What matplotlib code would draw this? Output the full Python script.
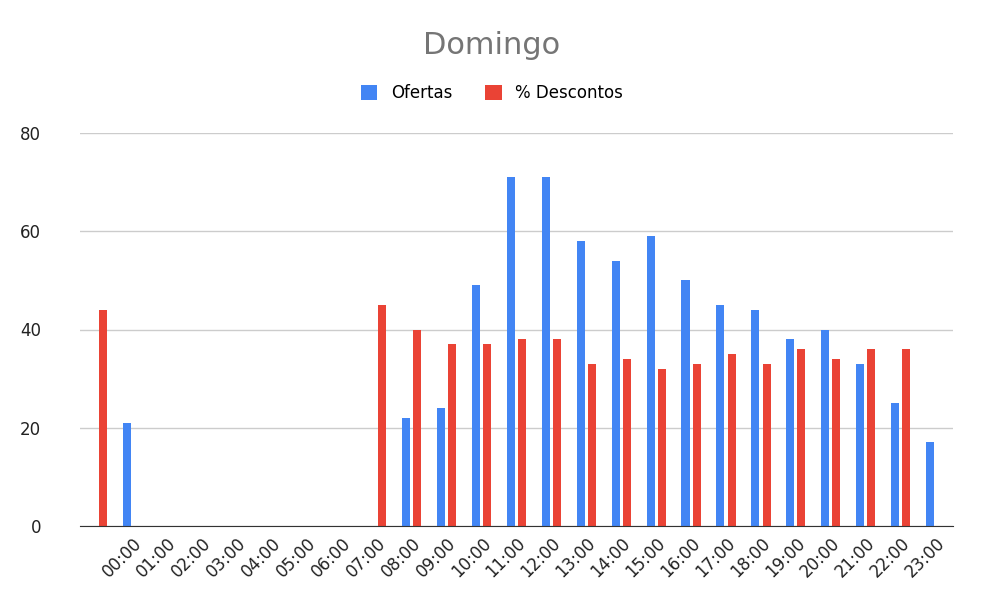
import matplotlib
matplotlib.use("Agg")
import matplotlib.pyplot as plt
import numpy as np

categories = [""] + [f"{h:02d}:00" for h in range(24)]
ofertas = [np.nan, 21, np.nan, np.nan, np.nan, np.nan, np.nan, np.nan, np.nan,
           22, 24, 49, 71, 71, 58, 54, 59, 50, 45, 44, 38, 40, 33, 25, 17]
descontos = [44, np.nan, np.nan, np.nan, np.nan, np.nan, np.nan, np.nan, 45,
             40, 37, 37, 38, 38, 33, 34, 32, 33, 35, 33, 36, 34, 36, 36, np.nan]

fig = plt.figure(figsize=(9.84, 6.08), dpi=100)
ax = fig.add_axes([80/984, 1-526/608, 873/984, 393/608])
x = np.arange(len(categories))
w = 0.23
ax.bar(x - 0.16, ofertas, w, color="#4285F4", label="Ofertas")
ax.bar(x + 0.16, descontos, w, color="#EA4335", label="% Descontos")
ax.set_xlim(-0.5, len(categories) - 0.5)
ax.set_ylim(0, 80)
ax.set_yticks([0, 20, 40, 60, 80])
ax.set_xticks(x)
ax.set_xticklabels(categories, rotation=45, ha="right", rotation_mode="anchor", fontsize=12, color="#222222")
ax.tick_params(axis="y", labelsize=12, colors="#222222", length=0, pad=28)
ax.tick_params(axis="x", length=0, pad=6)
ax.grid(axis="y", color="#cccccc", linewidth=1)
ax.set_axisbelow(True)
for s in ["top", "right", "left"]:
    ax.spines[s].set_visible(False)
ax.spines["bottom"].set_color("#333333")
fig.text(0.5, 1-45/608, "Domingo", ha="center", va="center", fontsize=22, color="#757575")
fig.legend(loc="center", bbox_to_anchor=(0.5, 1-93/608), ncol=2, frameon=False, fontsize=12,
           handlelength=1, handleheight=1, columnspacing=2)
fig.savefig("out.png", dpi=100)
